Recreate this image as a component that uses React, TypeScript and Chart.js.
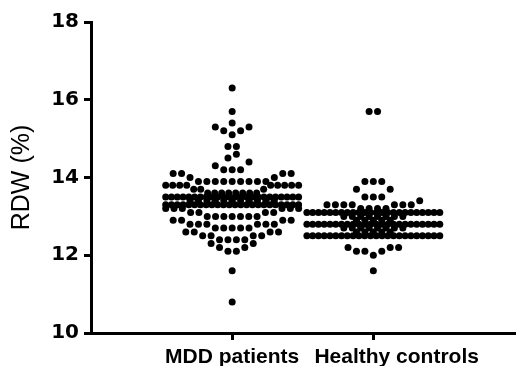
import React, { useEffect, useRef } from 'react';
import { Chart, registerables } from 'chart.js';

Chart.register(...registerables);

const categories = ['MDD patients', 'Healthy controls'];
// the right label sits a little to the right of its tick in the reference
const categoryLabels = ['MDD patients', '        Healthy controls'];
const yTickValues = [10, 12, 14, 16, 18];

// RDW (%) values: distinct value + number of subjects with that value
const mddRowValues = [10.8, 11.6, 12.1, 12.2, 12.3, 12.4, 12.5, 12.6, 12.7, 12.8, 12.9, 13.0, 13.1, 13.2, 13.3, 13.4, 13.5, 13.6, 13.7, 13.8, 13.9, 14.0, 14.1, 14.2, 14.3, 14.4, 14.5, 14.6, 14.8, 15.1, 15.2, 15.3, 15.4, 15.7, 16.3];
const mddRowCounts = [1, 1, 2, 2, 2, 4, 4, 4, 5, 6, 4, 7, 4, 6, 24, 11, 24, 8, 3, 9, 9, 2, 4, 3, 1, 1, 1, 1, 2, 1, 2, 2, 1, 1, 1];

const hcRowValues = [11.6, 12.0, 12.1, 12.2, 12.5, 12.6, 12.7, 12.8, 12.9, 13.0, 13.1, 13.2, 13.3, 13.4, 13.5, 13.7, 13.9, 15.7];
const hcRowCounts = [1, 1, 3, 3, 24, 5, 8, 24, 5, 8, 24, 4, 7, 1, 3, 2, 3, 2];

// layout: bins of three 0.1-steps, starting grid per group
const binOrigins = [12.1, 12.0];

function centredSlots(n: number, s: number): number[] {
  const slots: number[] = [];
  if (n % 2 === 1) {
    slots.push(0);
    for (let k = 1; slots.length < n; k++) {
      slots.push(-k * s);
      if (slots.length < n) slots.push(k * s);
    }
  } else {
    for (let k = 0; slots.length < n; k++) {
      slots.push(-(k + 0.5) * s);
      slots.push((k + 0.5) * s);
    }
  }
  return slots;
}

// Prism-like column scatter layout: values are grouped into bins about one dot high;
// a sparse bin is one centred row (lowest values in the middle), a crowded bin
// keeps one centred, compressed row per value
function layoutColumn(values: number[], counts: number[], origin: number, spacing: number, maxWidth: number) {
  const bins = new Map<number, { v: number; c: number }[]>();
  values.forEach((v, i) => {
    const key = Math.floor(Math.round((v - origin) * 10) / 3);
    if (!bins.has(key)) bins.set(key, []);
    bins.get(key)!.push({ v, c: counts[i] });
  });
  const out: { v: number; dx: number }[] = [];
  bins.forEach((bin) => {
    const n = bin.reduce((a, b) => a + b.c, 0);
    if (n > 24) {
      bin.forEach((b) => {
        const s = b.c > 1 ? Math.min(spacing, maxWidth / (b.c - 1)) : spacing;
        centredSlots(b.c, s).forEach((dx) => out.push({ v: b.v, dx }));
      });
    } else {
      const seq: number[] = [];
      bin.forEach((b) => {
        for (let k = 0; k < b.c; k++) seq.push(b.v);
      });
      const s = n > 1 ? Math.min(spacing, maxWidth / (n - 1)) : spacing;
      const slots = centredSlots(n, s);
      seq.forEach((v, k) => out.push({ v, dx: slots[k] }));
    }
  });
  return out;
}

export default function App() {
  const ref = useRef<HTMLCanvasElement>(null);

  useEffect(() => {
    document.body.style.margin = '0';
    const groups = [
      { values: mddRowValues, counts: mddRowCounts },
      { values: hcRowValues, counts: hcRowCounts },
    ];
    const chart = new Chart(ref.current as HTMLCanvasElement, {
      type: 'scatter',
      data: {
        datasets: groups.map((g, i) => ({
          label: categories[i],
          data: [] as { x: number; y: number }[],
          backgroundColor: '#000',
          borderWidth: 0,
          pointRadius: 3.5,
          pointHoverRadius: 3.5,
          clip: false as any,
        })),
      },
      options: {
        animation: false,
        responsive: false,
        devicePixelRatio: 1,
        layout: { padding: { top: 22, right: 0, bottom: 0, left: 0 } },
        plugins: { legend: { display: false }, tooltip: { enabled: false } },
        scales: {
          x: {
            type: 'linear',
            min: 0,
            max: 3,
            afterBuildTicks: (s: any) => {
              s.ticks = [{ value: 1 }, { value: 2 }];
            },
            afterFit: (s: any) => {
              s.height = 33;
            },
            ticks: {
              autoSkip: false,
              maxRotation: 0,
              padding: 5,
              color: '#000',
              font: { family: 'Liberation Sans', size: 21, weight: 'bold' },
              callback: (v: any) => categoryLabels[Math.round(Number(v)) - 1] ?? '',
            },
            grid: {
              display: true,
              drawOnChartArea: false,
              drawTicks: true,
              tickLength: 7,
              tickWidth: 3,
              tickColor: '#000',
              color: '#000',
              lineWidth: 3,
            },
            border: { display: true, width: 3, color: '#000' },
          },
          y: {
            type: 'linear',
            min: 10,
            max: 18,
            afterBuildTicks: (s: any) => {
              s.ticks = yTickValues.map((v) => ({ value: v }));
            },
            afterFit: (s: any) => {
              s.width = 91;
            },
            ticks: {
              padding: 5,
              color: '#000',
              font: { family: 'DejaVu Sans', size: 20, weight: 'bold' },
            },
            grid: {
              display: true,
              drawOnChartArea: false,
              drawTicks: true,
              tickLength: 7,
              tickWidth: 3,
              tickColor: '#000',
              color: '#000',
              lineWidth: 3,
            },
            border: { display: true, width: 3, color: '#000' },
            title: {
              display: true,
              text: 'RDW (%)',
              color: '#000',
              font: { family: 'Liberation Sans', size: 25, weight: 'normal' },
              padding: { top: 7, bottom: 0 },
            },
          },
        },
      },
    });

    const xs: any = chart.scales.x;
    groups.forEach((g, gi) => {
      const cx = xs.getPixelForValue(gi + 1);
      const pts = layoutColumn(g.values, g.counts, binOrigins[gi], 8.5, 134);
      (chart.data.datasets[gi] as any).data = pts.map((p) => ({ x: xs.getValueForPixel(cx + p.dx), y: p.v }));
    });
    chart.update();

    return () => chart.destroy();
  }, []);

  return <canvas ref={ref} width={518} height={366} style={{ display: 'block' }} />;
}
